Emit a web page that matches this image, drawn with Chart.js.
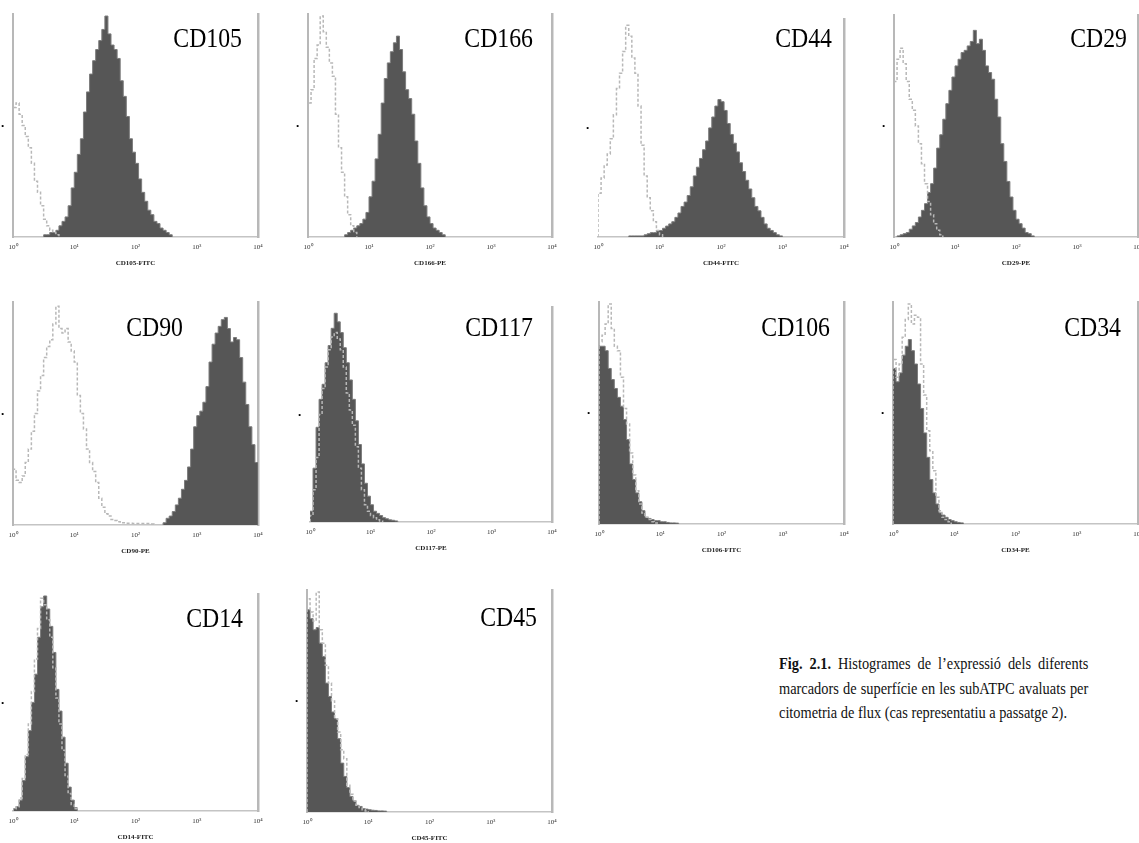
<!DOCTYPE html>
<html>
<head>
<meta charset="utf-8">
<script src="https://cdn.jsdelivr.net/npm/chart.js@4.4.0/dist/chart.umd.min.js"></script>
<style>
  body { margin: 0; background: #fff; width: 1139px; height: 843px; position: relative; overflow: hidden; font-family: "Liberation Serif", serif; }
  canvas { position: absolute; }
  #caption { position: absolute; left: 779px; top: 652px; width: 366px; font-size: 17px; line-height: 24.5px; text-align: justify; color: #111; transform: scaleX(0.845); transform-origin: 0 0; }
</style>
</head>
<body>

<div id="caption"><b>Fig. 2.1.</b> Histogrames de l’expressió dels diferents marcadors de superfície en les subATPC avaluats per citometria de flux (cas representatiu a passatge 2).</div>

<script>
// every histogram uses bins of 0.05 decade; values are % of full scale
const BIN = 0.05;

const decades = [1, 10, 100, 1000, 10000];
const decadeLabels = ['10⁰', '10¹', '10²', '10³', '10⁴'];

const markers = ['CD105', 'CD166', 'CD44', 'CD29', 'CD90', 'CD117', 'CD106', 'CD34', 'CD14', 'CD45'];
const channels = ['CD105-FITC', 'CD166-PE', 'CD44-FITC', 'CD29-PE', 'CD90-PE', 'CD117-PE', 'CD106-FITC', 'CD34-PE', 'CD14-FITC', 'CD45-FITC'];

// stained sample (filled) and isotype control (outline); *From = log10 of first bin
const cd105From = 0.5;
const cd105 = [1, 1, 2, 2, 3, 5, 7, 9, 14, 22, 29, 37, 44, 56, 65, 73, 79, 84, 88, 93, 99, 91, 86, 84, 80, 70, 63, 54, 44, 38, 33, 26, 20, 16, 12, 10, 7, 6, 4, 3, 2, 1];
const cd105IsoFrom = 0;
const cd105Iso = [58, 60, 55, 50, 45, 40, 33, 25, 20, 14, 8, 5, 3, 2, 1];

const cd166From = 0.6;
const cd166 = [1, 2, 3, 4, 5, 6, 8, 11, 18, 25, 35, 46, 60, 71, 78, 83, 87, 90, 84, 74, 66, 62, 55, 43, 33, 22, 14, 9, 6, 4, 3, 2, 1];
const cd166IsoFrom = 0;
const cd166Iso = [60, 66, 80, 86, 99, 92, 85, 78, 72, 55, 40, 29, 18, 10, 5, 2];

const cd44From = 0.5;
const cd44 = [0.5, 0.5, 0.5, 0.5, 0.5, 1, 1.5, 2, 2, 3, 3, 4, 5, 6, 7, 9, 11, 14, 16, 19, 23, 28, 32, 36, 40, 44, 50, 55, 60, 63, 62, 58, 52, 47, 43, 39, 34, 30, 26, 22, 18, 14, 12, 9, 6, 4, 3, 2, 1, 0.5];
const cd44IsoFrom = 0;
const cd44Iso = [20, 27, 33, 38, 45, 56, 68, 75, 85, 97, 92, 82, 75, 60, 42, 28, 18, 12, 7, 3, 1];

const cd29From = 0.05;
const cd29 = [0.5, 1, 1.5, 2, 3.5, 5, 6.5, 9, 12, 15, 20, 24, 31, 40, 46, 53, 60, 66, 72, 77, 80, 83, 84, 86, 88, 93, 87, 89, 84, 77, 74, 71, 62, 54, 42, 34, 25, 18, 12, 8, 6, 4, 2, 1.5, 0.5];
const cd29IsoFrom = 0;
const cd29Iso = [70, 80, 85, 78, 70, 62, 57, 50, 42, 33, 24, 16, 10, 6, 3, 1];

const cd90From = 2.45;
const cd90 = [1, 3, 4, 6, 9, 12, 16, 20, 26, 34, 44, 49, 51, 55, 62, 73, 81, 86, 89, 92, 93, 88, 82, 84, 83, 75, 64, 54, 44, 36, 28];
const cd90IsoFrom = 0;
const cd90Iso = [25, 20, 19, 22, 28, 34, 42, 50, 60, 67, 75, 80, 83, 90, 98, 88, 86, 88, 82, 78, 73, 58, 50, 43, 34, 28, 24, 19, 12, 8, 5, 4, 2.5, 2, 1.5, 1, 1, 0.8, 0.8, 0.7, 0.7, 0.7, 0.7, 0.7, 0.7, 0.5];

const cd117From = 0;
const cd117 = [5, 25, 44, 57, 64, 74, 82, 90, 97, 93, 88, 81, 74, 66, 57, 47, 36, 27, 18, 12, 8, 5, 4, 3, 2, 1.5, 1, 0.8, 0.5];
const cd117IsoFrom = 0;
const cd117Iso = [3, 15, 30, 50, 62, 72, 80, 86, 88, 85, 80, 72, 60, 52, 45, 35, 25, 15, 8, 5, 3, 2, 1, 0.5];

const cd106From = 0;
const cd106 = [80, 80, 78, 70, 65, 61, 57, 53, 47, 38, 27, 20, 14, 10, 6, 3, 2.5, 2, 1.5, 1.5, 1, 1, 0.7, 0.5, 0.5, 0.4];
const cd106IsoFrom = 0;
const cd106Iso = [82, 85, 90, 99, 88, 80, 78, 66, 52, 45, 32, 22, 15, 9, 5, 3, 2, 1, 0.5];

const cd34From = 0;
const cd34 = [70, 64, 68, 76, 80, 83, 78, 72, 63, 52, 41, 30, 20, 14, 9, 5, 4, 3, 2, 1.5, 1, 0.7, 0.5];
const cd34IsoFrom = 0;
const cd34Iso = [74, 66, 72, 84, 92, 99, 90, 94, 93, 72, 58, 42, 33, 24, 12, 6, 3, 2, 1];

const cd14From = 0;
const cd14 = [1, 2, 5, 14, 25, 37, 50, 63, 80, 94, 99, 93, 85, 73, 56, 46, 34, 22, 11, 5, 1.5];
const cd14IsoFrom = 0;
const cd14Iso = [1, 2, 6, 15, 26, 40, 55, 70, 84, 98, 95, 88, 80, 66, 52, 40, 28, 16, 8, 3, 1];

const cd45From = 0;
const cd45 = [91, 87, 82, 83, 76, 70, 58, 52, 45, 42, 33, 22, 16, 11, 7, 5, 3, 2.5, 1.5, 1.3, 1, 0.8, 0.7, 0.5, 0.5, 0.4];
const cd45IsoFrom = 0;
const cd45Iso = [96, 90, 86, 99, 82, 76, 66, 58, 50, 42, 36, 28, 24, 12, 8, 5, 3, 2, 1, 0.5];

// plot box on the page [left, top, right, bottom], marker label offset from top-right [dx, dy]
const panels = [
    { fill: [cd105From, cd105], iso: [cd105IsoFrom, cd105Iso], box: [13, 10, 258, 237], label: [16, 33], leftLine: true },
    { fill: [cd166From, cd166], iso: [cd166IsoFrom, cd166Iso], box: [308, 10, 552, 237], label: [19, 33], leftLine: true },
    { fill: [cd44From, cd44], iso: [cd44IsoFrom, cd44Iso], box: [598, 15, 844, 237], label: [12, 28], leftLine: false },
    { fill: [cd29From, cd29], iso: [cd29IsoFrom, cd29Iso], box: [894, 11, 1138, 237], label: [11, 32], leftLine: true },
    { fill: [cd90From, cd90], iso: [cd90IsoFrom, cd90Iso], box: [13, 298, 258, 525], label: [75, 34], leftLine: true },
    { fill: [cd117From, cd117], iso: [cd117IsoFrom, cd117Iso], box: [310, 303, 552, 522], label: [19, 29], leftLine: false },
    { fill: [cd106From, cd106], iso: [cd106IsoFrom, cd106Iso], box: [599, 298, 844, 524], label: [14, 34], leftLine: true },
    { fill: [cd34From, cd34], iso: [cd34IsoFrom, cd34Iso], box: [893, 298, 1138, 524], label: [17, 34], leftLine: true },
    { fill: [cd14From, cd14], iso: [cd14IsoFrom, cd14Iso], box: [13, 590, 258, 811], label: [15, 33], leftLine: false },
    { fill: [cd45From, cd45], iso: [cd45IsoFrom, cd45Iso], box: [307, 586, 552, 812], label: [15, 36], leftLine: true }
];

// turn bin counts into step points on the log axis
function steps(from, counts) {
    const pts = [{ x: Math.pow(10, from), y: 0 }];
    counts.forEach((c, i) => pts.push({ x: Math.pow(10, from + i * BIN), y: c }));
    pts.push({ x: Math.pow(10, from + counts.length * BIN), y: 0 });
    return pts;
}

// marker name in the top-right corner of the plot (the source figure is a bit squeezed sideways)
const markerLabel = {
    id: 'markerLabel',
    afterDatasetsDraw(chart, args, opts) {
        const { ctx, chartArea } = chart;
        ctx.save();
        ctx.translate(chartArea.right - opts.dx, chartArea.top + opts.dy);
        ctx.scale(0.88, 1);
        ctx.font = '27px "Liberation Serif"';
        ctx.fillStyle = '#000';
        ctx.textAlign = 'right';
        ctx.textBaseline = 'alphabetic';
        ctx.fillText(opts.text, 0, 0);
        ctx.restore();
    }
};

const serif = 'Liberation Serif';

panels.forEach((p, i) => {
    const [l, t, r, b] = p.box;
    const canvas = document.createElement('canvas');
    canvas.width = r - l + 40;
    canvas.height = b - t + 40;
    canvas.style.left = (l - 20) + 'px';
    canvas.style.top = (t - 10) + 'px';
    document.body.appendChild(canvas);

    new Chart(canvas, {
        type: 'line',
        data: {
            datasets: [
                {
                    label: 'isotip',
                    data: steps(p.iso[0], p.iso[1]),
                    stepped: true,
                    borderColor: '#b8b8b8',
                    borderWidth: 1.5,
                    borderDash: [3, 2],
                    pointRadius: 0,
                    fill: false,
                    order: 0
                },
                {
                    label: markers[i],
                    data: steps(p.fill[0], p.fill[1]),
                    stepped: true,
                    borderColor: '#7c7c7c',
                    borderWidth: 1,
                    backgroundColor: '#565656',
                    pointRadius: 0,
                    fill: 'origin',
                    order: 1
                }
            ]
        },
        options: {
            responsive: false,
            animation: false,
            layout: { padding: { top: 10, left: 0, right: 0, bottom: 0 } },
            plugins: {
                legend: { display: false },
                tooltip: { enabled: false },
                markerLabel: { text: markers[i], dx: p.label[0], dy: p.label[1] }
            },
            scales: {
                x: {
                    type: 'logarithmic',
                    min: 1,
                    max: 10000,
                    afterBuildTicks: axis => { axis.ticks = decades.map(v => ({ value: v })); },
                    ticks: {
                        autoSkip: false,
                        maxRotation: 0,
                        padding: 6,
                        color: '#333',
                        font: { family: serif, size: 7 },
                        callback: v => decadeLabels[decades.indexOf(v)]
                    },
                    grid: { display: false, drawTicks: false },
                    border: { display: true, color: '#c4c4c4', width: 1.5 },
                    title: {
                        display: true,
                        text: channels[i],
                        color: '#222',
                        padding: { top: 4, bottom: 0 },
                        font: { family: serif, size: 7, weight: 'bold' }
                    },
                    afterFit: axis => { axis.height = 30; }
                },
                y: {
                    position: 'left',
                    min: 0,
                    max: 100,
                    afterBuildTicks: axis => { axis.ticks = [{ value: 50 }]; },
                    ticks: { padding: 9, color: '#000', font: { size: 8 }, callback: () => '•' },
                    grid: { display: false, drawTicks: false },
                    border: { display: p.leftLine, color: '#b8b8b8', width: 2 },
                    afterFit: axis => { axis.width = 20; }
                },
                y2: {
                    axis: 'y',
                    position: 'right',
                    min: 0,
                    max: 100,
                    ticks: { display: false },
                    grid: { display: false, drawTicks: false },
                    border: { display: true, color: '#b8b8b8', width: 2.5 },
                    afterFit: axis => { axis.width = 20; }
                }
            }
        },
        plugins: [markerLabel]
    });
});
</script>
</body>
</html>
